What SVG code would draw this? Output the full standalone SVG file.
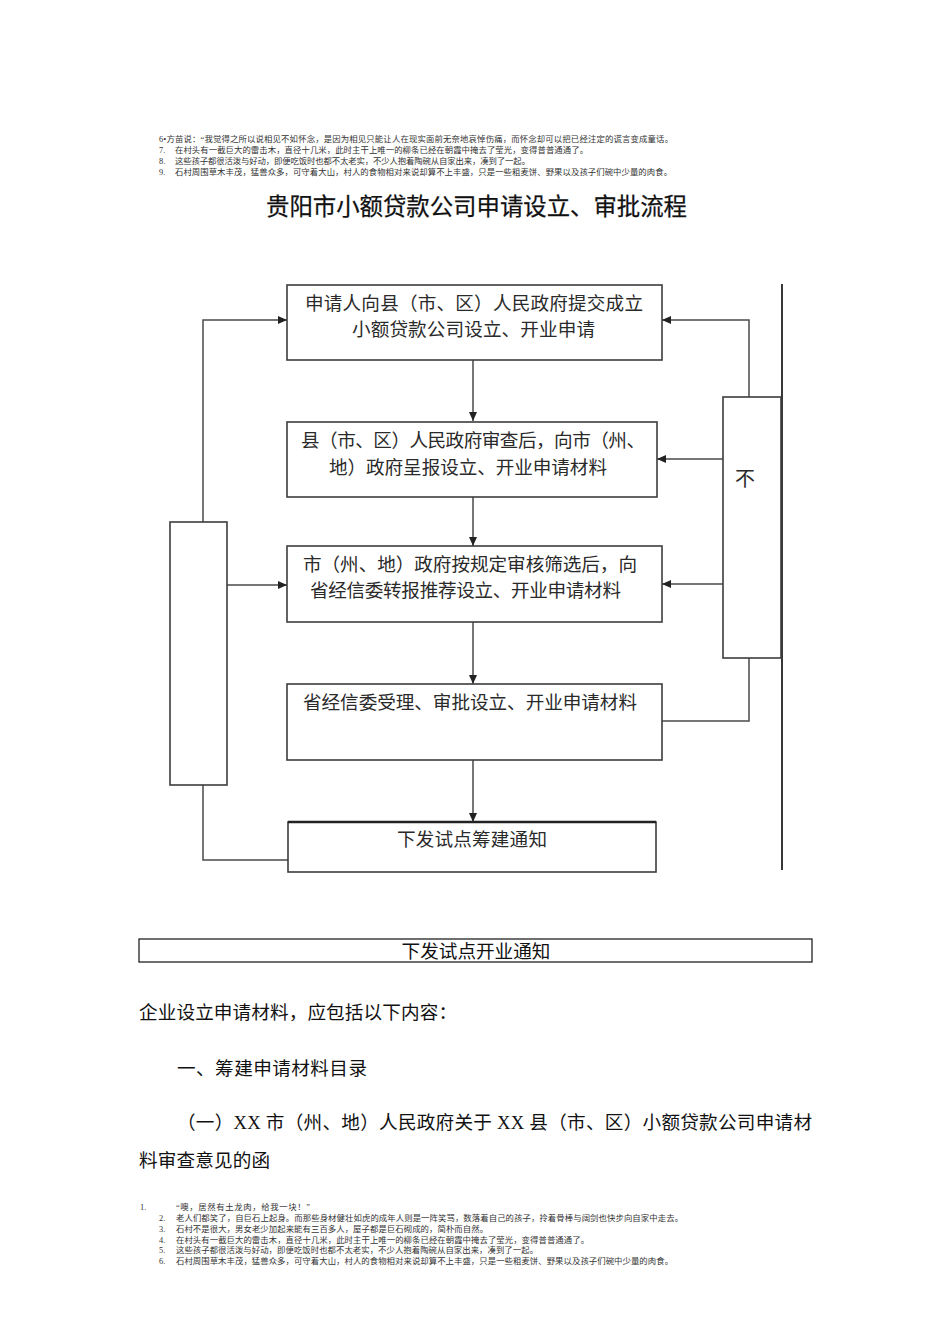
<svg xmlns="http://www.w3.org/2000/svg" width="950" height="1344" viewBox="0 0 950 1344">
<style>
.bg{fill:#ffffff}
.box{fill:#ffffff;stroke:#3c3c3c;stroke-width:1.6}
.ln{fill:none;stroke:#4a4a4a;stroke-width:1.5}
.t{font-family:"Liberation Serif","Noto Sans CJK SC",serif;fill:#2a2a2a;font-size:18.6px}
.ttl{font-family:"Noto Sans CJK SC",sans-serif;fill:#111;font-size:23.4px;font-weight:normal;stroke:#111;stroke-width:0.25}
.s{font-family:"Liberation Serif","Noto Sans CJK SC",serif;fill:#333;font-size:8.4px}
.p{font-family:"Liberation Serif","Noto Sans CJK SC",serif;fill:#111;font-size:18.6px}
</style>
<defs>
<marker id="ah" markerUnits="userSpaceOnUse" markerWidth="9" markerHeight="8" refX="9" refY="4" orient="auto">
<path d="M0,0 L9,4 L0,8 z" fill="#222"/>
</marker>
</defs>
<rect class="bg" x="0" y="0" width="950" height="1344"/>

<g id="header-notes">
<text class="s" x="159" y="142" textLength="514" lengthAdjust="spacing">6•方苗说：“我觉得之所以说相见不如怀念，是因为相见只能让人在现实面前无奈地哀悼伤痛，而怀念却可以把已经注定的谎言变成童话。</text>
<text class="s" x="159" y="153">7.</text>
<text class="s" x="175" y="153" textLength="413" lengthAdjust="spacing">在村头有一截巨大的雷击木，直径十几米，此时主干上唯一的柳条已经在朝霞中掩去了莹光，变得普普通通了。</text>
<text class="s" x="159" y="164">8.</text>
<text class="s" x="175" y="164" textLength="355" lengthAdjust="spacing">这些孩子都很活泼与好动，即便吃饭时也都不太老实，不少人抱着陶碗从自家出来，凑到了一起。</text>
<text class="s" x="159" y="175">9.</text>
<text class="s" x="175" y="175" textLength="497" lengthAdjust="spacing">石村周围草木丰茂，猛兽众多，可守着大山，村人的食物相对来说却算不上丰盛，只是一些粗麦饼、野果以及孩子们碗中少量的肉食。</text>
</g>

<g id="title">
<text class="ttl" x="266" y="214.5" textLength="421" lengthAdjust="spacing">贵阳市小额贷款公司申请设立、审批流程</text>
</g>

<g id="connectors">
<path class="ln" d="M203,522 V320 H287" marker-end="url(#ah)"/>
<path class="ln" d="M227,585 H287" marker-end="url(#ah)"/>
<path class="ln" d="M203,785 V860 H290"/>
<path class="ln" d="M473,360 V421" marker-end="url(#ah)"/>
<path class="ln" d="M473,497 V546" marker-end="url(#ah)"/>
<path class="ln" d="M473,622 V684" marker-end="url(#ah)"/>
<path class="ln" d="M473,760 V822" marker-end="url(#ah)"/>
<path class="ln" d="M749,397 V320 H662" marker-end="url(#ah)"/>
<path class="ln" d="M723,459 H657" marker-end="url(#ah)"/>
<path class="ln" d="M723,584 H662" marker-end="url(#ah)"/>
<path class="ln" d="M662,721 H749 V658"/>
<path class="ln" d="M782,284 V870" style="stroke:#222;stroke-width:1.8"/>
</g>

<g id="node-apply">
<rect class="box" x="287" y="285" width="375" height="75"/>
<text class="t" x="305" y="310" textLength="338" lengthAdjust="spacing">申请人向县（市、区）人民政府提交成立</text>
<text class="t" x="352" y="336" textLength="243" lengthAdjust="spacing">小额贷款公司设立、开业申请</text>
</g>

<g id="node-county">
<rect class="box" x="287" y="422" width="370" height="75"/>
<text class="t" x="301" y="447" textLength="344" lengthAdjust="spacing">县（市、区）人民政府审查后，向市（州、</text>
<text class="t" x="329" y="474" textLength="278" lengthAdjust="spacing">地）政府呈报设立、开业申请材料</text>
</g>

<g id="node-city">
<rect class="box" x="287" y="546" width="375" height="76"/>
<text class="t" x="303" y="571" textLength="334" lengthAdjust="spacing">市（州、地）政府按规定审核筛选后，向</text>
<text class="t" x="310" y="597" textLength="311" lengthAdjust="spacing">省经信委转报推荐设立、开业申请材料</text>
</g>

<g id="node-province">
<rect class="box" x="287" y="684" width="375" height="76"/>
<text class="t" x="303" y="709" textLength="334" lengthAdjust="spacing">省经信委受理、审批设立、开业申请材料</text>
</g>

<g id="node-notice">
<rect class="box" x="288" y="822" width="368" height="50"/>
<line x1="288" y1="822" x2="656" y2="822" stroke="#222" stroke-width="2.4"/>
<text class="t" x="397" y="846" textLength="150" lengthAdjust="spacing">下发试点筹建通知</text>
</g>

<g id="node-left">
<rect class="box" x="170" y="522" width="57" height="263"/>
</g>

<g id="node-reject">
<rect class="box" x="723" y="397" width="58" height="261"/>
<text class="t" x="735" y="486" style="font-size:20px">不</text>
</g>

<g id="node-open">
<rect class="box" x="139" y="939" width="673" height="23" style="stroke:#222;stroke-width:1.3"/>
<text class="t" x="476" y="957.5" text-anchor="middle" style="fill:#111">下发试点开业通知</text>
</g>

<g id="body-text">
<text class="p" x="139" y="1019" textLength="318" lengthAdjust="spacing">企业设立申请材料，应包括以下内容：</text>
<text class="p" x="177" y="1075" textLength="190" lengthAdjust="spacing">一、筹建申请材料目录</text>
<text class="p" x="177" y="1129" textLength="635" lengthAdjust="spacing">（一）XX 市（州、地）人民政府关于 XX 县（市、区）小额贷款公司申请材</text>
<text class="p" x="139" y="1167" textLength="131" lengthAdjust="spacing">料审查意见的函</text>
</g>

<g id="footer-notes">
<text class="s" x="140" y="1210">1.</text>
<text class="s" x="176" y="1210" textLength="134" lengthAdjust="spacing">“噢，居然有土龙肉，给我一块！”</text>
<text class="s" x="159" y="1221">2.</text>
<text class="s" x="176" y="1221" textLength="507" lengthAdjust="spacing">老人们都笑了，自巨石上起身。而那些身材健壮如虎的成年人则是一阵笑骂，数落着自己的孩子，拎着骨棒与阔剑也快步向自家中走去。</text>
<text class="s" x="159" y="1232">3.</text>
<text class="s" x="176" y="1232" textLength="312" lengthAdjust="spacing">石村不是很大，男女老少加起来能有三百多人，屋子都是巨石砌成的，简朴而自然。</text>
<text class="s" x="159" y="1243">4.</text>
<text class="s" x="176" y="1243" textLength="413" lengthAdjust="spacing">在村头有一截巨大的雷击木，直径十几米，此时主干上唯一的柳条已经在朝霞中掩去了莹光，变得普普通通了。</text>
<text class="s" x="159" y="1253">5.</text>
<text class="s" x="176" y="1253" textLength="362" lengthAdjust="spacing">这些孩子都很活泼与好动，即便吃饭时也都不太老实，不少人抱着陶碗从自家出来，凑到了一起。</text>
<text class="s" x="159" y="1264">6.</text>
<text class="s" x="176" y="1264" textLength="497" lengthAdjust="spacing">石村周围草木丰茂，猛兽众多，可守着大山，村人的食物相对来说却算不上丰盛，只是一些粗麦饼、野果以及孩子们碗中少量的肉食。</text>
</g>
</svg>
